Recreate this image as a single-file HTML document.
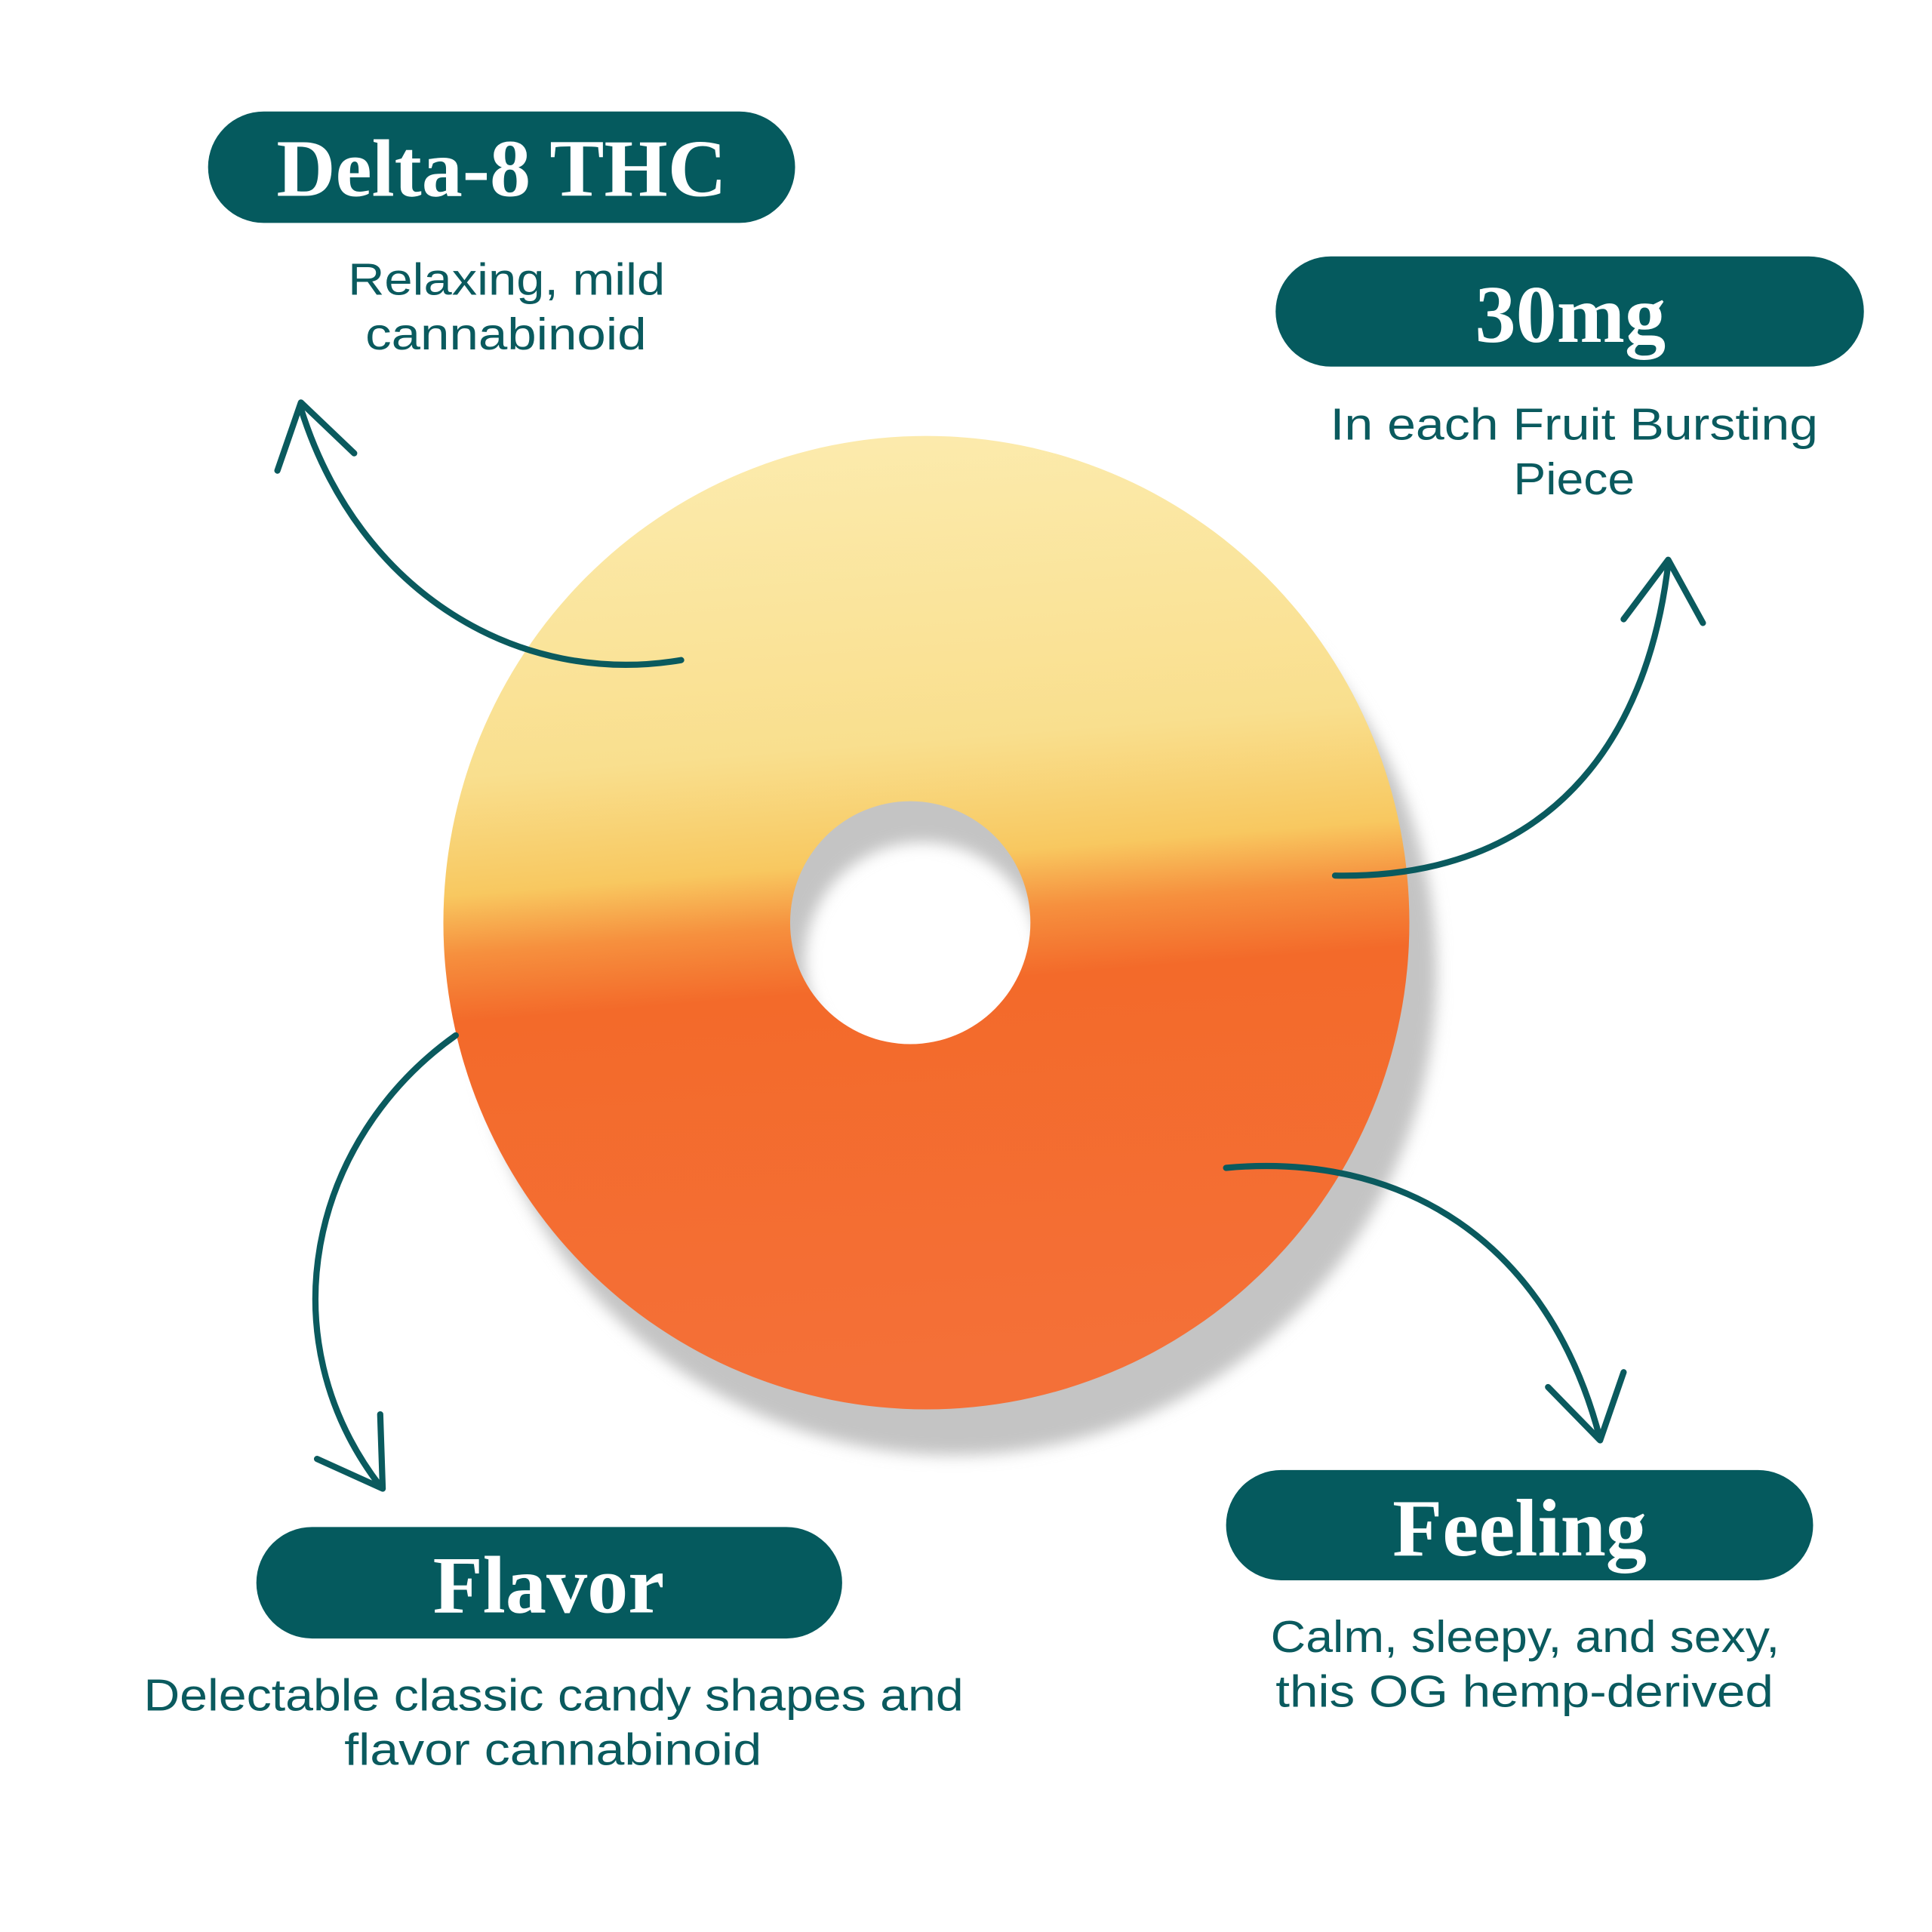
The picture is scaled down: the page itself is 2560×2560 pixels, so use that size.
<!DOCTYPE html>
<html><head><meta charset="utf-8"><style>
html,body{margin:0;padding:0;background:#fff;}
svg{display:block;}
</style></head><body>
<svg width="2560" height="2560" viewBox="0 0 1560 1560" xmlns="http://www.w3.org/2000/svg">
<defs>
<linearGradient id="g" x1="0" y1="0" x2="0.08" y2="1">
<stop offset="0" stop-color="#fcecb0"/>
<stop offset="0.35" stop-color="#f9df8e"/>
<stop offset="0.47" stop-color="#f8c860"/>
<stop offset="0.53" stop-color="#f6903e"/>
<stop offset="0.6" stop-color="#f36a2a"/>
<stop offset="1" stop-color="#f47038"/>
</linearGradient>
<filter id="b"><feGaussianBlur stdDeviation="6"/></filter>
</defs>
<rect width="1560" height="1560" fill="#fff"/>
<path fill="#c4c4c4" filter="url(#b)" fill-rule="evenodd" d="M1160,785 a390,390 0 1,0 -780,0 a390,390 0 1,0 780,0 Z M840,775 a95,95 0 1,0 -190,0 a95,95 0 1,0 190,0 Z"/>
<path fill="url(#g)" fill-rule="evenodd" d="M1138,745 a390,393 0 1,0 -780,0 a390,393 0 1,0 780,0 Z M832,745 a97,98 0 1,0 -194,0 a97,98 0 1,0 194,0 Z"/>
<g fill="#055a5e">
<rect x="168" y="90" width="474" height="90" rx="45"/>
<rect x="1030" y="207" width="475" height="89" rx="44.5"/>
<rect x="207" y="1233" width="473" height="90" rx="45"/>
<rect x="990" y="1187" width="474" height="89" rx="44.5"/>
</g>
<g font-family="Liberation Serif, serif" font-weight="bold" fill="#fff" font-size="66" text-anchor="middle">
<text x="405" y="158">Delta-8 THC</text>
<text x="1268" y="276">30mg</text>
<text x="443" y="1302">Flavor</text>
<text x="1227" y="1256">Feeling</text>
</g>
<g font-family="Liberation Sans, sans-serif" fill="#0a5a5e" font-size="36" lengthAdjust="spacingAndGlyphs">
<text x="281" y="238" textLength="256" lengthAdjust="spacingAndGlyphs">Relaxing, mild</text>
<text x="295" y="282" textLength="227" lengthAdjust="spacingAndGlyphs">cannabinoid</text>
<text x="1074" y="355" textLength="394" lengthAdjust="spacingAndGlyphs">In each Fruit Bursting</text>
<text x="1222" y="399" textLength="98" lengthAdjust="spacingAndGlyphs">Piece</text>
<text x="116" y="1381" textLength="662" lengthAdjust="spacingAndGlyphs">Delectable classic candy shapes and</text>
<text x="278" y="1425" textLength="337" lengthAdjust="spacingAndGlyphs">flavor cannabinoid</text>
<text x="1026" y="1334" textLength="411" lengthAdjust="spacingAndGlyphs">Calm, sleepy, and sexy,</text>
<text x="1030" y="1378" textLength="402" lengthAdjust="spacingAndGlyphs">this OG hemp-derived</text>
</g>
<g fill="none" stroke="#0a5a5e" stroke-width="5" stroke-linecap="round" stroke-linejoin="round">
<path d="M550,533 C420,555 290,480 243,330"/>
<path d="M224,380 L243,325 L286,366"/>
<path d="M1078,707 C1250,710 1330,600 1347,455"/>
<path d="M1311,500 L1347,452 L1375,503"/>
<path d="M368,836 C250,920 215,1080 307,1200"/>
<path d="M307,1142 L309,1202 L256,1178"/>
<path d="M990,943 C1130,930 1250,1000 1292,1162"/>
<path d="M1250,1120 L1292,1163 L1311,1108"/>
</g>
</svg>
</body></html>
